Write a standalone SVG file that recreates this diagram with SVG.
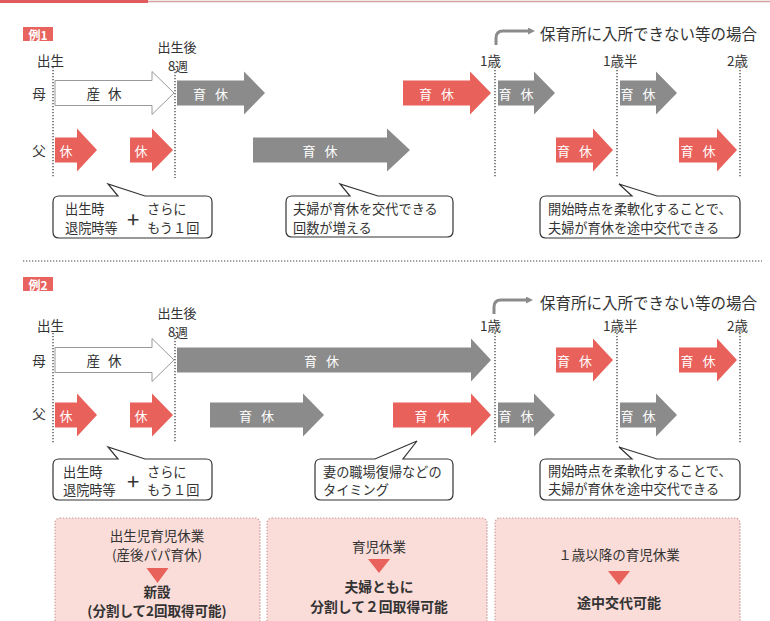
<svg xmlns="http://www.w3.org/2000/svg" width="770" height="621" viewBox="0 0 770 621">
<style>
text{font-family:"Noto Sans CJK JP","Noto Sans",sans-serif;fill:#333;dominant-baseline:central}
.lab{font-size:13.5px}
.sm{font-size:13px}
.cl{font-size:13.2px}
.ttl{font-size:15.5px}
.aw{fill:#fff;font-size:13px;text-anchor:middle;letter-spacing:9px}
.ow{fill:#333;font-size:13.5px;text-anchor:middle;letter-spacing:8px}
.red{fill:#e9615b}
.gray{fill:#8b8b8b}
.outline{fill:#fff;stroke:#9a9a9a;stroke-width:1}
.dot{stroke:#333;stroke-width:1.2;stroke-dasharray:1.3 1.7;fill:none}
.call{fill:#fff;stroke:#333;stroke-width:1.2}
.box{fill:#fadcd8;stroke:#c99a9a;stroke-width:1.2;stroke-dasharray:1.3 1.7}
.tag{fill:#e8625e}
.tagt{fill:#fff;font-size:12px;font-weight:bold;text-anchor:middle}
.plus{font-size:22px;text-anchor:middle}
.bt{font-size:13.5px;text-anchor:middle}
.bb{font-size:14px;font-weight:bold;text-anchor:middle}
.tri{fill:#e9615b}
.conn{fill:none;stroke:#8b8b8b;stroke-width:3}
</style>
<defs>
<marker id="ah" markerWidth="7" markerHeight="7" refX="3" refY="3.5" orient="auto" markerUnits="userSpaceOnUse" viewBox="0 0 7 7">
<path d="M0,0 L7,3.5 L0,7 Z" fill="#8b8b8b"/>
</marker>
</defs>
<rect x="0" y="0" width="148" height="3" fill="#e05c5c"/>
<line x1="148" y1="1.5" x2="770" y2="1.5" stroke="#d4a0a3" stroke-width="1.5"/>

<g id="example1">
<g id="tag1"><rect class="tag" x="23" y="27" width="30" height="14"/><text class="tagt" x="38" y="34">例1</text></g>
<g id="ex1-timeline">
<text class="lab" x="37" y="60">出生</text>
<text class="sm" x="177" y="46" text-anchor="middle">出生後</text>
<text class="sm" x="178" y="65" text-anchor="middle">8週</text>
<text class="lab" x="480" y="60">1歳</text>
<text class="lab" x="603" y="60">1歳半</text>
<text class="lab" x="727" y="60">2歳</text>
<text class="ttl" x="540" y="33">保育所に入所できない等の場合</text>
<text class="lab" x="39" y="93" text-anchor="middle">母</text>
<text class="lab" x="39" y="150" text-anchor="middle">父</text>
<line class="dot" x1="53" y1="67" x2="53" y2="178"/>
<line class="dot" x1="175" y1="69" x2="175" y2="178"/>
<line class="dot" x1="495" y1="67" x2="495" y2="178"/>
<line class="dot" x1="617" y1="67" x2="617" y2="178"/>
<line class="dot" x1="740" y1="67" x2="740" y2="178"/>
</g>
<g id="ex1-m1"><path class="outline" d="M55,80.5 H152 V71.5 L174,93 L152,114.5 V105.5 H55 Z"/><text class="ow" x="108" y="93">産休</text></g>
<g id="ex1-m2"><path class="gray" d="M177,80.5 H244 V71.5 L265,93 L244,114.5 V105.5 H177 Z"/><text class="aw" x="215" y="93">育休</text></g>
<g id="ex1-m3"><path class="red" d="M403,80.5 H470 V71.5 L491,93 L470,114.5 V105.5 H403 Z"/><text class="aw" x="441" y="93">育休</text></g>
<g id="ex1-m4"><path class="gray" d="M498,80.5 H534 V71.5 L555,93 L534,114.5 V105.5 H498 Z"/><text class="aw" x="520.5" y="93">育休</text></g>
<g id="ex1-m5"><path class="gray" d="M620,80.5 H656 V71.5 L677,93 L656,114.5 V105.5 H620 Z"/><text class="aw" x="642.5" y="93">育休</text></g>
<g id="ex1-f1"><path class="red" d="M55,137.5 H77 V128.5 L97,150 L77,171.5 V162.5 H55 Z"/><text class="aw" x="70.5" y="150">休</text></g>
<g id="ex1-f2"><path class="red" d="M130,137.5 H152 V128.5 L173,150 L152,171.5 V162.5 H130 Z"/><text class="aw" x="145.5" y="150">休</text></g>
<g id="ex1-f3"><path class="gray" d="M253,137.5 H387 V128.5 L410,150 L387,171.5 V162.5 H253 Z"/><text class="aw" x="324.5" y="150">育休</text></g>
<g id="ex1-f4"><path class="red" d="M556,137.5 H593 V128.5 L613,150 L593,171.5 V162.5 H556 Z"/><text class="aw" x="579" y="150">育休</text></g>
<g id="ex1-f5"><path class="red" d="M679,137.5 H717 V128.5 L737,150 L717,171.5 V162.5 H679 Z"/><text class="aw" x="702.5" y="150">育休</text></g>
<g id="ex1-c1"><path class="call" d="M59,196 H118 L108,184 L145,196 H206 Q212,196 212,202 V232 Q212,238 206,238 H59 Q53,238 53,232 V202 Q53,196 59,196 Z"/>
<text class="cl" x="65" y="208">出生時</text><text class="cl" x="65" y="227">退院時等</text>
<text class="plus" x="133" y="218">+</text>
<text class="cl" x="147" y="208">さらに</text><text class="cl" x="147" y="227">もう１回</text></g>
<g id="ex1-c2"><path class="call" d="M292,196 H350 L340,184 L378,196 H447 Q453,196 453,202 V231 Q453,237 447,237 H292 Q286,237 286,231 V202 Q286,196 292,196 Z"/>
<text class="cl" x="293" y="208">夫婦が育休を交代できる</text><text class="cl" x="293" y="227">回数が増える</text></g>
<g id="ex1-c3"><path class="call" d="M546,196 H632 L619,184 L657,196 H734 Q740,196 740,202 V232 Q740,238 734,238 H546 Q540,238 540,232 V202 Q540,196 546,196 Z"/>
<text class="cl" x="548" y="208">開始時点を柔軟化することで、</text><text class="cl" x="548" y="227">夫婦が育休を途中交代できる</text></g>
</g>

<line x1="23" y1="261" x2="762" y2="261" stroke="#444" stroke-width="1.2" stroke-dasharray="1.3 1.7"/>

<g id="example2">
<g id="tag2"><rect class="tag" x="23" y="277" width="30" height="14"/><text class="tagt" x="38" y="284">例2</text></g>
<g id="ex2-timeline">
<text class="lab" x="37" y="325">出生</text>
<text class="sm" x="177" y="312" text-anchor="middle">出生後</text>
<text class="sm" x="178" y="331" text-anchor="middle">8週</text>
<text class="lab" x="480" y="325">1歳</text>
<text class="lab" x="603" y="325">1歳半</text>
<text class="lab" x="727" y="325">2歳</text>
<text class="ttl" x="540" y="302">保育所に入所できない等の場合</text>
<text class="lab" x="39" y="360" text-anchor="middle">母</text>
<text class="lab" x="39" y="413" text-anchor="middle">父</text>
<line class="dot" x1="53" y1="333" x2="53" y2="443"/>
<line class="dot" x1="175" y1="335" x2="175" y2="443"/>
<line class="dot" x1="495" y1="333" x2="495" y2="443"/>
<line class="dot" x1="617" y1="333" x2="617" y2="443"/>
<line class="dot" x1="740" y1="333" x2="740" y2="443"/>
</g>
<g id="ex2-m1"><path class="outline" d="M55,347.5 H152 V338.5 L174,360 L152,381.5 V372.5 H55 Z"/><text class="ow" x="108" y="360">産休</text></g>
<g id="ex2-m2"><path class="gray" d="M177,347.5 H471 V338.5 L491,360 L471,381.5 V372.5 H177 Z"/><text class="aw" x="326" y="360">育休</text></g>
<g id="ex2-m3"><path class="red" d="M556,347.5 H593 V338.5 L613,360 L593,381.5 V372.5 H556 Z"/><text class="aw" x="579" y="360">育休</text></g>
<g id="ex2-m4"><path class="red" d="M679,347.5 H717 V338.5 L737,360 L717,381.5 V372.5 H679 Z"/><text class="aw" x="702.5" y="360">育休</text></g>
<g id="ex2-f1"><path class="red" d="M55,402.5 H77 V393.5 L97,415 L77,436.5 V427.5 H55 Z"/><text class="aw" x="70.5" y="415">休</text></g>
<g id="ex2-f2"><path class="red" d="M130,402.5 H152 V393.5 L173,415 L152,436.5 V427.5 H130 Z"/><text class="aw" x="145.5" y="415">休</text></g>
<g id="ex2-f3"><path class="gray" d="M210,402.5 H303 V393.5 L324,415 L303,436.5 V427.5 H210 Z"/><text class="aw" x="261" y="415">育休</text></g>
<g id="ex2-f4"><path class="red" d="M393,402.5 H471 V393.5 L491,415 L471,436.5 V427.5 H393 Z"/><text class="aw" x="436.5" y="415">育休</text></g>
<g id="ex2-f5"><path class="gray" d="M498,402.5 H534 V393.5 L555,415 L534,436.5 V427.5 H498 Z"/><text class="aw" x="520.5" y="415">育休</text></g>
<g id="ex2-f6"><path class="gray" d="M620,402.5 H656 V393.5 L677,415 L656,436.5 V427.5 H620 Z"/><text class="aw" x="642.5" y="415">育休</text></g>
<g id="ex2-c1"><path class="call" d="M59,459 H118 L108,447 L145,459 H206 Q212,459 212,465 V494 Q212,500 206,500 H59 Q53,500 53,494 V465 Q53,459 59,459 Z"/>
<text class="cl" x="63" y="471">出生時</text><text class="cl" x="63" y="489">退院時等</text>
<text class="plus" x="133" y="480">+</text>
<text class="cl" x="147" y="471">さらに</text><text class="cl" x="147" y="489">もう１回</text></g>
<g id="ex2-c2"><path class="call" d="M321,459 H375 L417,441 L403,459 H447 Q453,459 453,465 V494 Q453,500 447,500 H321 Q315,500 315,494 V465 Q315,459 321,459 Z"/>
<text class="cl" x="323" y="471">妻の職場復帰などの</text><text class="cl" x="323" y="489">タイミング</text></g>
<g id="ex2-c3"><path class="call" d="M546,459 H632 L619,447 L657,459 H734 Q740,459 740,465 V494 Q740,500 734,500 H546 Q540,500 540,494 V465 Q540,459 546,459 Z"/>
<text class="cl" x="548" y="470">開始時点を柔軟化することで、</text><text class="cl" x="548" y="488">夫婦が育休を途中交代できる</text></g>
</g>

<g id="connectors">
<path class="conn" d="M496,45 V38 Q496,31 503,31 H531" marker-end="url(#ah)"/>
<path class="conn" d="M494,314 V307 Q494,300 501,300 H529" marker-end="url(#ah)"/>
</g>

<g id="box1"><rect class="box" x="55" y="518" width="205" height="115" rx="5"/>
<text class="bt" x="157" y="535">出生児育児休業</text>
<text class="bt" x="157" y="554">(産後パパ育休)</text>
<path class="tri" d="M146.5,568 H168.5 L157.5,583 Z"/>
<text class="bb" x="157" y="591" style="font-size:13.5px">新設</text>
<text class="bb" x="157" y="610" style="font-size:13.5px">(分割して2回取得可能)</text></g>
<g id="box2"><rect class="box" x="267" y="518" width="220" height="115" rx="5"/>
<text class="bt" x="379" y="546">育児休業</text>
<path class="tri" d="M368,559 H390 L379,573 Z"/>
<text class="bb" x="379" y="586" style="font-size:13.8px">夫婦ともに</text>
<text class="bb" x="379" y="606" style="font-size:13.8px">分割して２回取得可能</text></g>
<g id="box3"><rect class="box" x="495" y="518" width="245" height="115" rx="5"/>
<text class="bt" x="619" y="554">１歳以降の育児休業</text>
<path class="tri" d="M608,571 H630 L619,585 Z"/>
<text class="bb" x="619" y="602">途中交代可能</text></g>
</svg>
